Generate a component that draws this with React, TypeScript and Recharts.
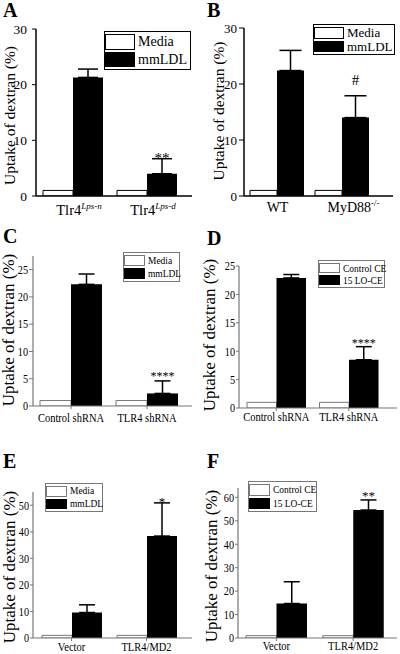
import React from 'react';
import { BarChart, Bar, XAxis, YAxis, ErrorBar, LabelList, Legend, Label } from 'recharts';

const serif = '"Liberation Serif", "Times New Roman", Times, serif';

// A: Tlr4 Lps-n / Lps-d macrophages, media vs mmLDL
const aCats = ['Tlr4', 'Tlr4'];
const aSups = ['Lps-n', 'Lps-d'];
const aMedia = [1, 1];
const aTreat = [21.3, 4.0];
const aErr = [1.5, 2.7];
const aMarks = ['', '**'];

// B: WT vs MyD88-/-
const bCats = ['WT', 'MyD88'];
const bSups = ['', '-/-'];
const bMedia = [1, 1];
const bTreat = [22.4, 14.0];
const bErr = [3.6, 3.9];
const bMarks = ['', '#'];

// C: shRNA, mmLDL
const cCats = ['Control shRNA', 'TLR4 shRNA'];
const cMedia = [1, 1];
const cTreat = [22.3, 2.3];
const cErr = [1.9, 2.3];
const cMarks = ['', '****'];

// D: shRNA, 15 LO-CE
const dCats = ['Control shRNA', 'TLR4 shRNA'];
const dCtrl = [1, 1];
const dTreat = [22.9, 8.5];
const dErr = [0.6, 2.3];
const dMarks = ['', '****'];

// E: overexpression, mmLDL
const eCats = ['Vector', 'TLR4/MD2'];
const eMedia = [1, 1];
const eTreat = [9.6, 38.4];
const eErr = [2.9, 12.5];
const eMarks = ['', '*'];

// F: overexpression, 15 LO-CE
const fCats = ['Vector', 'TLR4/MD2'];
const fCtrl = [1, 1];
const fTreat = [14.7, 54.6];
const fErr = [9.3, 4.3];
const fMarks = ['', '**'];

const ldlNames = ['Media', 'mmLDL'];
const ceNames = ['Control CE', '15 LO-CE'];
const noSups = ['', ''];

const ticks30 = [0, 10, 20, 30];
const ticks25 = [0, 5, 10, 15, 20, 25];
const ticks50 = [0, 10, 20, 30, 40, 50];
const ticks60 = [0, 10, 20, 30, 40, 50, 60];

const yTitle = 'Uptake of dextran (%)';

type Leg = { x: number; y: number; w: number; h: number; font: number; scale: number; sw: number };

type PanelCfg = {
  letter: string; lx: number; ly: number;
  left: number; top: number; width: number; height: number;
  mt: number; mr: number; yw: number; xh: number;
  domain: [number, number]; ticks: number[];
  padL: number; padR: number; barSize: number; cap: number;
  ink: string; axisW: number;
  yTickSize: number; yTickMargin: number; yFont: number; yScale: number;
  xTickSize: number; xTickLine: boolean; xFont: number; xScale: number; xDy: number; xDx: number[];
  supDy: number; supFont: number; supItalic: boolean;
  titleX: number; titleDy: number; titleFont: number;
  leg: Leg; markDy: number; markFont: number;
  cats: string[]; sups: string[]; ctrl: number[]; treat: number[]; err: number[]; marks: string[]; names: string[];
};

const common = {
  xDx: [0, 0], supDy: -6, supFont: 9, supItalic: false,
};

const panels: PanelCfg[] = [
  {
    ...common, letter: 'A', lx: 3, ly: 17, left: 0, top: 0, width: 200, height: 225,
    mt: 29, mr: 8, yw: 36, xh: 29, domain: [0, 30], ticks: ticks30,
    padL: 0, padR: 8, barSize: 30, cap: 10, ink: '#000', axisW: 1.5,
    yTickSize: 4, yTickMargin: 5, yFont: 13.5, yScale: 1,
    xTickSize: 0, xTickLine: false, xFont: 14.5, xScale: 1, xDy: 19, xDx: [6, 6], supItalic: true,
    titleX: 9, titleDy: 3, titleFont: 15.5,
    leg: { x: 104, y: 31, w: 87, h: 39, font: 14, scale: 1, sw: 30 }, markDy: 4, markFont: 15,
    cats: aCats, sups: aSups, ctrl: aMedia, treat: aTreat, err: aErr, marks: aMarks, names: ldlNames,
  },
  {
    ...common, letter: 'B', lx: 207, ly: 17, left: 200, top: 0, width: 200, height: 225,
    mt: 28, mr: 7, yw: 44, xh: 29, domain: [0, 30], ticks: ticks30,
    padL: 0, padR: 19, barSize: 27, cap: 11, ink: '#000', axisW: 1.5,
    yTickSize: 5, yTickMargin: 2, yFont: 13, yScale: 1,
    xTickSize: 0, xTickLine: false, xFont: 14, xScale: 1, xDy: 16, xDx: [1, 12],
    titleX: 18, titleDy: -1, titleFont: 15.5,
    leg: { x: 113, y: 24, w: 82, h: 31, font: 13, scale: 1, sw: 30 }, markDy: -11, markFont: 15,
    cats: bCats, sups: bSups, ctrl: bMedia, treat: bTreat, err: bErr, marks: bMarks, names: ldlNames,
  },
  {
    ...common, letter: 'C', lx: 3, ly: 243, left: 0, top: 215, width: 200, height: 225,
    mt: 41, mr: 8, yw: 33, xh: 34, domain: [0, 27.5], ticks: ticks25,
    padL: 0, padR: 7, barSize: 31, cap: 8, ink: '#777', axisW: 1.2,
    yTickSize: 4, yTickMargin: 1, yFont: 12, yScale: 0.85,
    xTickSize: 3, xTickLine: true, xFont: 12.5, xScale: 0.84, xDy: 13,
    titleX: 8, titleDy: -1, titleFont: 17,
    leg: { x: 123, y: 37, w: 57, h: 30, font: 10.5, scale: 0.9, sw: 21 }, markDy: -1, markFont: 12,
    cats: cCats, sups: noSups, ctrl: cMedia, treat: cTreat, err: cErr, marks: cMarks, names: ldlNames,
  },
  {
    ...common, letter: 'D', lx: 207, ly: 245, left: 200, top: 215, width: 200, height: 225,
    mt: 51, mr: 3, yw: 39, xh: 32, domain: [0, 25], ticks: ticks25,
    padL: 1, padR: 12, barSize: 29.5, cap: 8, ink: '#777', axisW: 1.2,
    yTickSize: 3, yTickMargin: 1, yFont: 12, yScale: 0.85,
    xTickSize: 3, xTickLine: true, xFont: 12.5, xScale: 0.84, xDy: 10,
    titleX: 9, titleDy: -2, titleFont: 17,
    leg: { x: 118, y: 45, w: 67, h: 28, font: 11, scale: 0.86, sw: 21 }, markDy: 0, markFont: 12,
    cats: dCats, sups: noSups, ctrl: dCtrl, treat: dTreat, err: dErr, marks: dMarks, names: ceNames,
  },
  {
    ...common, letter: 'E', lx: 3, ly: 468, left: 0, top: 430, width: 200, height: 224,
    mt: 62, mr: 8, yw: 33, xh: 16, domain: [0, 55], ticks: ticks50,
    padL: 1, padR: 8, barSize: 30, cap: 8, ink: '#777', axisW: 1.2,
    yTickSize: 3, yTickMargin: 1, yFont: 12, yScale: 0.85,
    xTickSize: 3, xTickLine: true, xFont: 12.5, xScale: 0.84, xDy: 10,
    titleX: 9, titleDy: 2, titleFont: 17,
    leg: { x: 45, y: 53, w: 58, h: 29, font: 10.5, scale: 0.9, sw: 21 }, markDy: 3, markFont: 13,
    cats: eCats, sups: noSups, ctrl: eMedia, treat: eTreat, err: eErr, marks: eMarks, names: ldlNames,
  },
  {
    ...common, letter: 'F', lx: 207, ly: 468, left: 200, top: 430, width: 200, height: 224,
    mt: 58, mr: 3, yw: 38, xh: 16, domain: [0, 64], ticks: ticks60,
    padL: 0, padR: 5.5, barSize: 30.5, cap: 8, ink: '#777', axisW: 1.2,
    yTickSize: 3, yTickMargin: 1, yFont: 12, yScale: 0.85,
    xTickSize: 3, xTickLine: true, xFont: 12.5, xScale: 0.84, xDy: 9,
    titleX: 11, titleDy: 3, titleFont: 17,
    leg: { x: 48, y: 51, w: 69, h: 31, font: 11, scale: 0.86, sw: 21 }, markDy: 0, markFont: 13,
    cats: fCats, sups: noSups, ctrl: fCtrl, treat: fTreat, err: fErr, marks: fMarks, names: ceNames,
  },
];

function Panel({ p }: { p: PanelCfg }) {
  const rows = p.cats.map((c, i) => ({
    name: c + p.sups[i],
    ctrl: p.ctrl[i],
    treat: p.treat[i],
    err: [0, p.err[i]],
    mark: p.marks[i],
  }));

  const xTick = (props: any) => {
    const { x, y, index } = props;
    const sup = p.sups[index];
    return (
      <g transform={`translate(${x + p.xDx[index]},${y + p.xDy}) scale(${p.xScale},1)`}>
        <text x={0} y={0} textAnchor="middle" fontFamily={serif} fontSize={p.xFont} fill="#000">
          {p.cats[index]}
          {sup ? (
            <tspan dy={p.supDy} fontSize={p.supFont} fontStyle={p.supItalic ? 'italic' : 'normal'}>
              {sup}
            </tspan>
          ) : null}
        </text>
      </g>
    );
  };

  const yTick = (props: any) => (
    <text
      transform={`translate(${props.x},${props.y}) scale(${p.yScale},1)`}
      textAnchor="end"
      dominantBaseline="central"
      fontFamily={serif}
      fontSize={p.yFont}
      fill="#000"
    >
      {props.payload.value}
    </text>
  );

  const title = (lp: any) => {
    const vb = lp.viewBox;
    const plotH = p.height - p.xh - p.mt;
    const cy = (vb && vb.height ? vb.y + vb.height / 2 : p.mt + plotH / 2) + p.titleDy;
    return (
      <text
        transform={`translate(${p.titleX},${cy}) rotate(-90)`}
        textAnchor="middle"
        dominantBaseline="central"
        fontFamily={serif}
        fontSize={p.titleFont}
        fill="#000"
      >
        {yTitle}
      </text>
    );
  };

  const mark = (lp: any) => {
    const box = lp.viewBox && lp.viewBox.width != null ? lp.viewBox : lp;
    const i = lp.index;
    if (i == null || !p.marks[i]) return null;
    const errPx = (p.err[i] * Math.abs(box.height)) / p.treat[i];
    return (
      <text
        x={box.x + box.width / 2}
        y={box.y - errPx + p.markDy}
        textAnchor="middle"
        fontFamily={serif}
        fontSize={p.markFont}
        fill="#000"
      >
        {p.marks[i]}
      </text>
    );
  };

  const L = p.leg;
  const pad = 2;
  const sh = (L.h - 2 - 3 * pad) / 2;
  const legend = () => (
    <div
      style={{
        position: 'relative',
        width: L.w,
        height: L.h,
        boxSizing: 'border-box',
        border: `1px solid ${p.ink}`,
        background: '#fff',
      }}
    >
      {p.names.map((n, i) => {
        const top = pad + i * (sh + pad);
        return (
          <React.Fragment key={n}>
            <div
              style={{
                position: 'absolute',
                left: 0,
                top,
                width: L.sw,
                height: sh,
                boxSizing: 'border-box',
                border: i === 0 ? `1px solid ${p.ink}` : 'none',
                background: i === 0 ? '#fff' : '#000',
              }}
            />
            <div
              style={{
                position: 'absolute',
                left: L.sw + 3,
                top,
                height: sh,
                lineHeight: `${sh}px`,
                fontFamily: serif,
                fontSize: L.font,
                whiteSpace: 'nowrap',
                transform: `scaleX(${L.scale})`,
                transformOrigin: 'left center',
                color: '#000',
              }}
            >
              {n}
            </div>
          </React.Fragment>
        );
      })}
    </div>
  );

  return (
    <div style={{ position: 'absolute', left: p.left, top: p.top }}>
      <BarChart
        width={p.width}
        height={p.height}
        data={rows}
        margin={{ top: p.mt, right: p.mr, bottom: 0, left: 0 }}
        barGap={0}
        barSize={p.barSize}
      >
        <XAxis
          dataKey="name"
          interval={0}
          height={p.xh}
          padding={{ left: p.padL, right: p.padR }}
          axisLine={{ stroke: p.ink, strokeWidth: p.axisW }}
          tickLine={p.xTickLine ? { stroke: p.ink } : false}
          tickSize={p.xTickSize}
          tickMargin={0}
          tick={xTick}
        />
        <YAxis
          type="number"
          width={p.yw}
          domain={p.domain}
          ticks={p.ticks}
          interval={0}
          allowDataOverflow
          axisLine={{ stroke: p.ink, strokeWidth: p.axisW }}
          tickLine={{ stroke: p.ink }}
          tickSize={p.yTickSize}
          tickMargin={p.yTickMargin}
          tick={yTick}
        >
          <Label content={title} />
        </YAxis>
        <Legend
          layout="vertical"
          align="center"
          verticalAlign="middle"
          wrapperStyle={{ left: L.x, top: L.y, width: L.w, height: L.h }}
          content={legend}
        />
        <Bar dataKey="ctrl" name={p.names[0]} fill="#fff" stroke={p.ink} strokeWidth={1} isAnimationActive={false} />
        <Bar dataKey="treat" name={p.names[1]} fill="#000" isAnimationActive={false}>
          <ErrorBar dataKey="err" direction="y" width={p.cap} stroke="#000" strokeWidth={1.5} />
          <LabelList dataKey="mark" content={mark} />
        </Bar>
      </BarChart>
    </div>
  );
}

export default function App() {
  return (
    <div
      style={{
        position: 'absolute',
        left: 0,
        top: 0,
        width: 400,
        height: 654,
        background: '#fff',
        overflow: 'hidden',
      }}
    >
      {panels.map((p) => (
        <Panel key={p.letter} p={p} />
      ))}
      <svg width={400} height={654} style={{ position: 'absolute', left: 0, top: 0, pointerEvents: 'none' }}>
        {panels.map((p) => (
          <text key={p.letter} x={p.lx} y={p.ly} fontFamily={serif} fontWeight="bold" fontSize={20} fill="#000">
            {p.letter}
          </text>
        ))}
      </svg>
    </div>
  );
}
